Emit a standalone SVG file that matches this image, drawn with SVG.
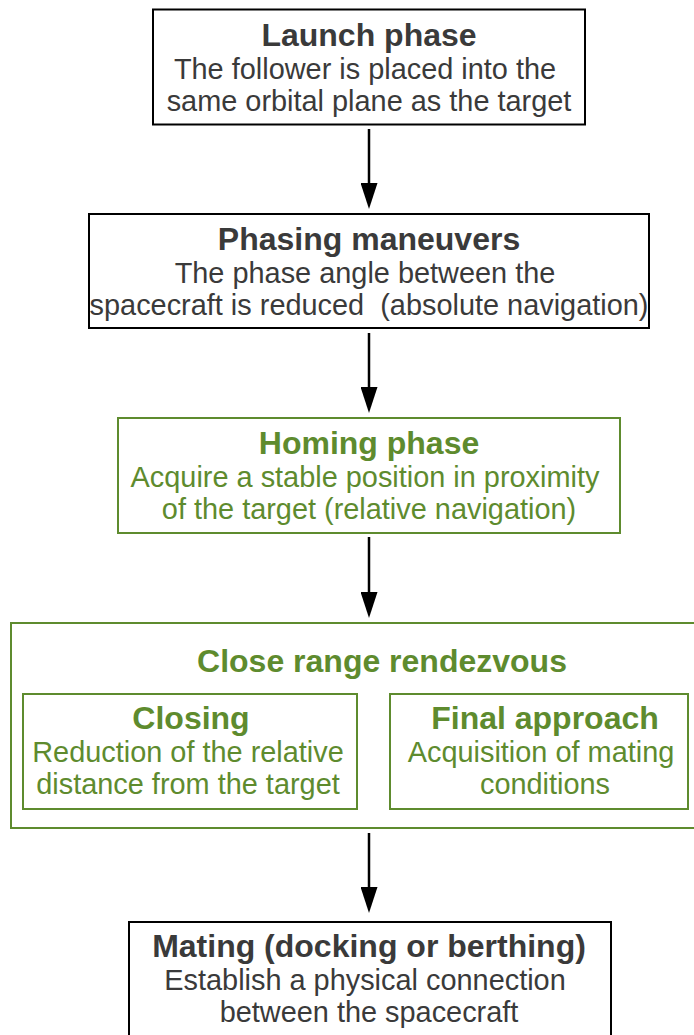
<svg xmlns="http://www.w3.org/2000/svg" width="694" height="1035" viewBox="0 0 694 1035">
<style>
text{font-family:"Liberation Sans",Arial,sans-serif;text-anchor:middle;white-space:pre}
.t{font-size:32px;font-weight:bold}
.d{font-size:28.9px}
.k{fill:#3a3a3a}
.g{fill:#5e8b2e}
.bk{fill:#fff;stroke:#000;stroke-width:2}
.bg{fill:#fff;stroke:#5e8b2e;stroke-width:2}
.c{stroke:#000;stroke-width:2.5;fill:none}
</style>
<defs>
<marker id="ah" markerUnits="userSpaceOnUse" markerWidth="26" markerHeight="17" refX="6" refY="8.5" orient="auto" viewBox="0 0 26 17">
<path d="M0,0 L26,8.5 L0,17 Z" fill="#000"/>
</marker>
</defs>
<rect width="694" height="1035" fill="#fff"/>
<g id="connectors">
<line class="c" x1="369" y1="129" x2="369" y2="189" marker-end="url(#ah)"/>
<line class="c" x1="369" y1="333" x2="369" y2="393" marker-end="url(#ah)"/>
<line class="c" x1="369" y1="537" x2="369" y2="598" marker-end="url(#ah)"/>
<line class="c" x1="369" y1="833" x2="369" y2="893" marker-end="url(#ah)"/>
</g>
<g id="launch">
<rect class="bk" x="153" y="9.5" width="432" height="115"/>
<text class="t k" x="369" y="46">Launch phase</text>
<text class="d k" x="365" y="79">The follower is placed into the</text>
<text class="d k" x="369" y="111">same orbital plane as the target</text>
</g>
<g id="phasing">
<rect class="bk" x="89" y="214" width="560" height="114"/>
<text class="t k" x="369" y="250">Phasing maneuvers</text>
<text class="d k" x="365" y="283">The phase angle between the</text>
<text class="d k" x="369" y="315">spacecraft is reduced  (absolute navigation)</text>
</g>
<g id="homing">
<rect class="bg" x="118" y="418" width="502" height="115"/>
<text class="t g" x="369" y="454">Homing phase</text>
<text class="d g" x="365" y="487">Acquire a stable position in proximity</text>
<text class="d g" x="369" y="519">of the target (relative navigation)</text>
</g>
<g id="close-range">
<rect class="bg" x="11" y="623" width="700" height="205"/>
<text class="t g" x="382" y="672">Close range rendezvous</text>
</g>
<g id="closing">
<rect class="bg" x="23" y="694" width="334" height="115"/>
<text class="t g" x="191" y="729">Closing</text>
<text class="d g" x="188" y="762">Reduction of the relative</text>
<text class="d g" x="188" y="794">distance from the target</text>
</g>
<g id="final-approach">
<rect class="bg" x="390" y="694" width="298" height="115"/>
<text class="t g" x="545" y="729">Final approach</text>
<text class="d g" x="541" y="762">Acquisition of mating</text>
<text class="d g" x="545" y="794">conditions</text>
</g>
<g id="mating">
<rect class="bk" x="129" y="922" width="482" height="130"/>
<text class="t k" x="369" y="957">Mating (docking or berthing)</text>
<text class="d k" x="365" y="990">Establish a physical connection</text>
<text class="d k" x="369" y="1022">between the spacecraft</text>
</g>
</svg>
